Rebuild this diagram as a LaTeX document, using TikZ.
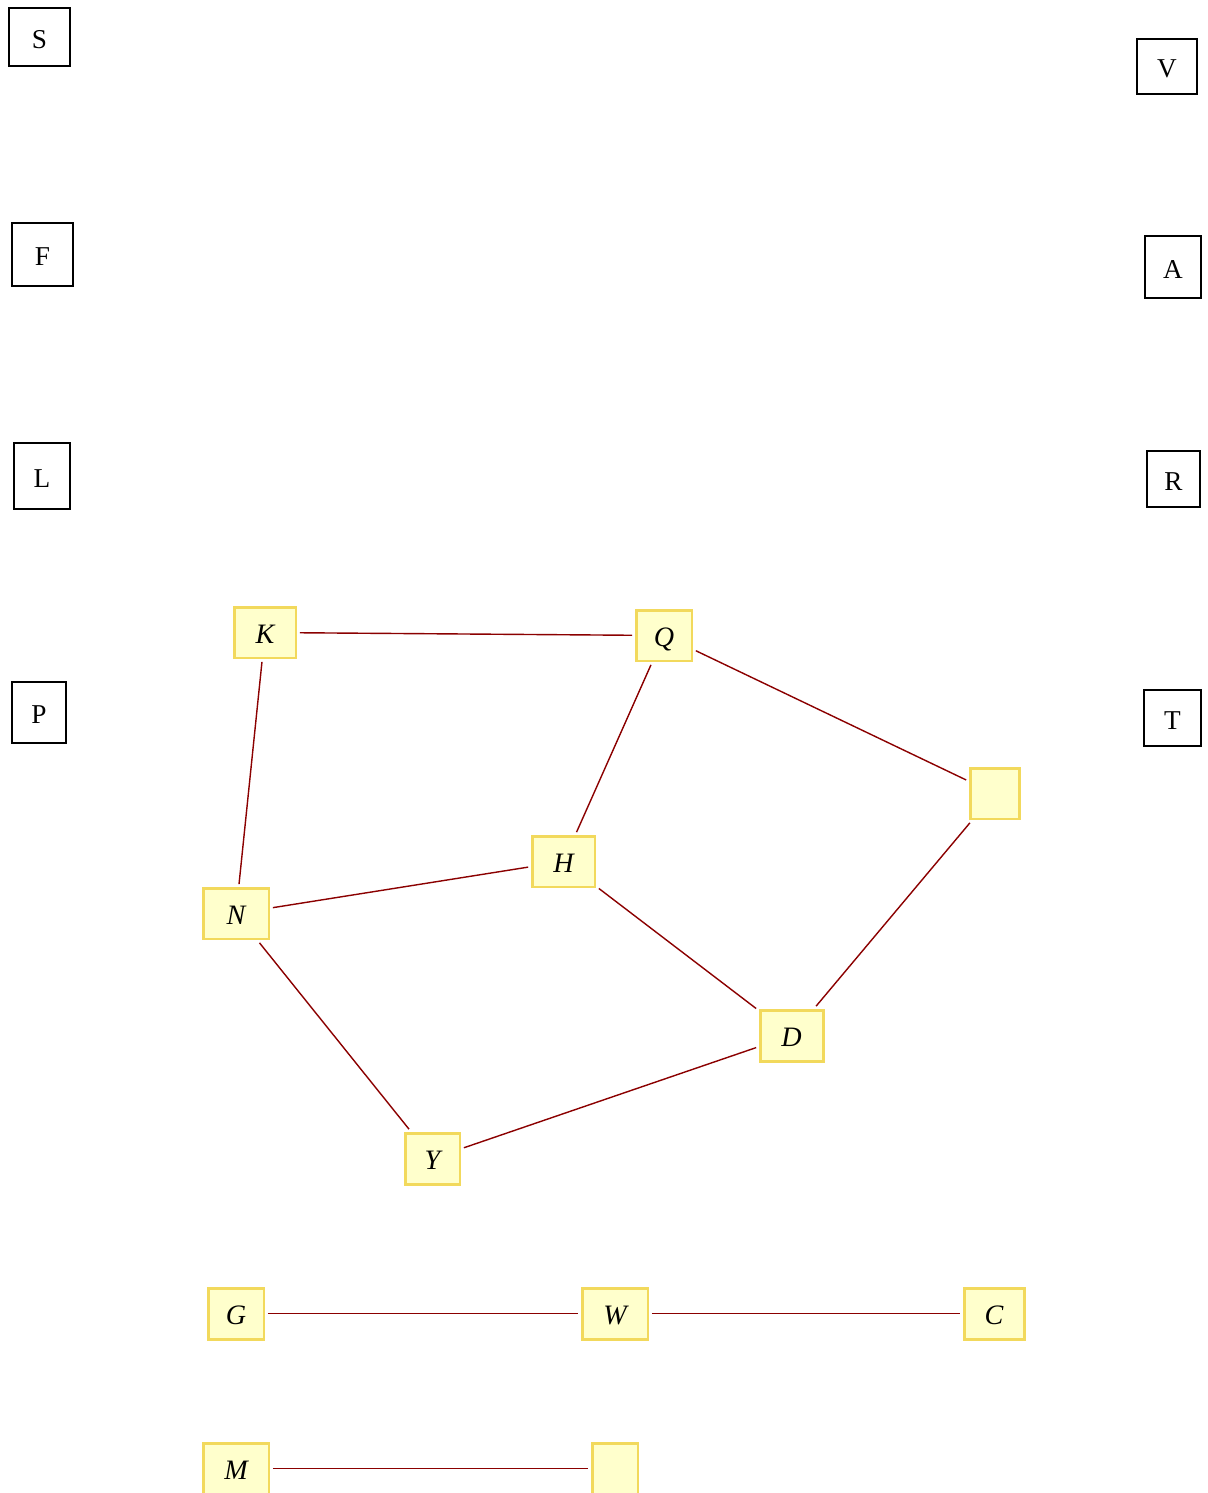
\documentclass[tikz,border=0pt]{standalone}
\usepackage{fontspec}
\setmainfont{Liberation Serif}
\definecolor{edgered}{HTML}{8B0000}
\definecolor{vertfill}{HTML}{FFFFCC}
\definecolor{vertline}{HTML}{F2D95C}
\tikzset{
  lone/.style={draw=black,line width=1.1pt,inner sep=0pt,text height=13pt,text depth=0pt,
    font=\fontsize{15.5}{15.5}\selectfont},
  vert/.style={draw=vertline,fill=vertfill,line width=1.7pt,inner sep=0pt,text height=13pt,text depth=0pt,
    minimum height=1.02cm,outer sep=2.2pt,font=\fontsize{16}{16}\selectfont\itshape},
  link/.style={edgered,line width=0.8pt}
}
\begin{document}
\begin{tikzpicture}[x=0.02cm,y=-0.02cm]
    \useasboundingbox (0,0) rectangle (1207,1493);

    % boxes on the left and right
    \node[lone,minimum width=1.22cm,minimum height=1.16cm] (S) at (39.5,37) {S};
    \node[lone,minimum width=1.22cm,minimum height=1.26cm] (F) at (42.5,254.5) {F};
    \node[lone,minimum width=1.12cm,minimum height=1.32cm] (L) at (42,476) {L};
    \node[lone,minimum width=1.08cm,minimum height=1.22cm] (P) at (39,712.5) {P};
    \node[lone,minimum width=1.20cm,minimum height=1.10cm] (V) at (1167,66.5) {V};
    \node[lone,minimum width=1.12cm,minimum height=1.24cm] (A) at (1173,267) {A};
    \node[lone,minimum width=1.06cm,minimum height=1.12cm] (R) at (1173.5,479) {R};
    \node[lone,minimum width=1.14cm,minimum height=1.12cm] (T) at (1172.5,718) {T};

    % graph
    \node[vert,minimum width=1.24cm] (K) at (265,632.5) {K};
    \node[vert,minimum width=1.12cm] (Q) at (664,635.5) {Q};
    \node[vert,minimum width=0.98cm] (E) at (994.5,793.5) {};
    \node[vert,minimum width=1.26cm] (H) at (563.5,861.5) {H};
    \node[vert,minimum width=1.32cm] (N) at (236,913.5) {N};
    \node[vert,minimum width=1.26cm] (D) at (791.5,1035.5) {D};
    \node[vert,minimum width=1.10cm] (Y) at (432.5,1158.5) {Y};

    \node[vert,minimum width=1.12cm] (G) at (236,1313.5) {G};
    \node[vert,minimum width=1.32cm] (W) at (615,1313.5) {W};
    \node[vert,minimum width=1.20cm] (C) at (994,1313.5) {C};

    \node[vert,minimum width=1.32cm] (M) at (236,1468.5) {M};
    \node[vert,minimum width=0.92cm] (B) at (615,1468.5) {};

    \draw[link] (K) -- (Q);
    \draw[link] (K) -- (N);
    \draw[link] (Q) -- (H);
    \draw[link] (Q) -- (E);
    \draw[link] (E) -- (D);
    \draw[link] (H) -- (N);
    \draw[link] (H) -- (D);
    \draw[link] (N) -- (Y);
    \draw[link] (Y) -- (D);
    \draw[link] (G) -- (W);
    \draw[link] (W) -- (C);
    \draw[link] (M) -- (B);
\end{tikzpicture}
\end{document}
